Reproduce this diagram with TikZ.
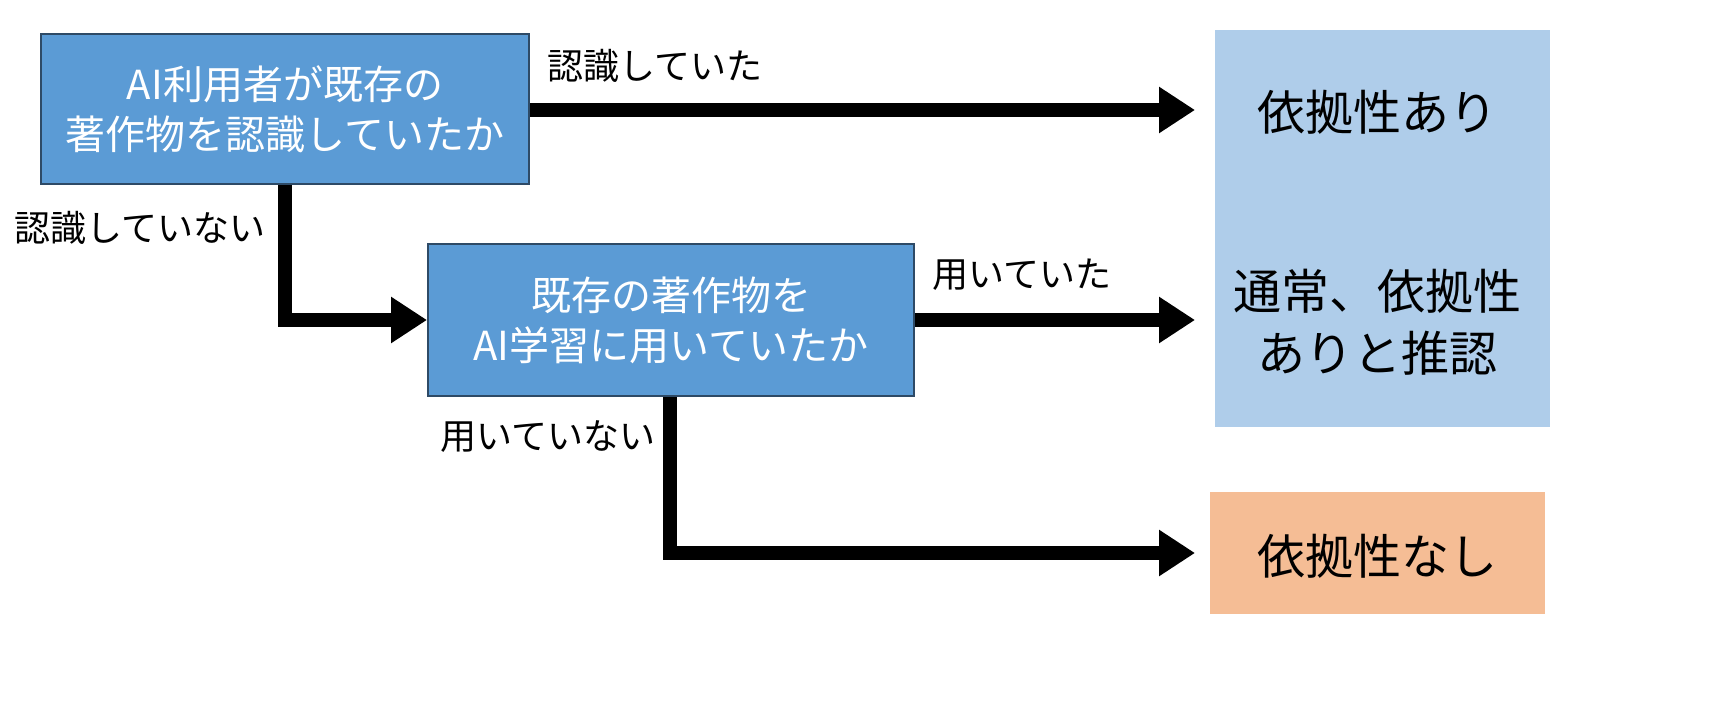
\documentclass[tikz,border=0pt]{standalone}
\usepackage{fontspec}
\setmainfont{Noto Sans CJK JP}
\usetikzlibrary{arrows.meta}
\definecolor{boxblue}{HTML}{5B9BD5}
\definecolor{boxedge}{HTML}{2E4A66}
\definecolor{lightblue}{HTML}{AFCDEA}
\definecolor{peach}{HTML}{F5BD95}
\begin{document}
\begin{tikzpicture}[x=1pt,y=-1pt,
  qbox/.style={draw=boxedge,line width=2pt,fill=boxblue,text=white,font=\fontsize{40}{50}\selectfont,align=center,anchor=north west,inner sep=0pt},
  lbl/.style={font=\fontsize{36}{42}\selectfont,anchor=center,inner sep=0pt},
  res/.style={font=\fontsize{48}{62}\selectfont,align=center,inner sep=0pt},
  flow/.style={line width=14pt,-{Triangle[length=36pt,width=44pt]}}]
\useasboundingbox (0,0) rectangle (1710,706);
\fill[lightblue] (1215,30) rectangle (1550,427);
\fill[peach] (1210,492) rectangle (1545,614);
\node[qbox,minimum width=488pt,minimum height=150pt] (q1) at (40,33) {AI利用者が既存の\\著作物を認識していたか};
\node[qbox,minimum width=486pt,minimum height=152pt] (q2) at (427,243) {既存の著作物を\\AI学習に用いていたか};
\coordinate (e1) at (1195,110);
\coordinate (e2) at (1195,320);
\coordinate (e3) at (1195,553);
\coordinate (c1) at (285,320);
\coordinate (c2) at (670,553);
\draw[flow] (q1.east |- e1) -- (e1);
\draw[flow] (q1.south -| c1) -- (c1) -- (q2.west |- c1);
\draw[flow] (q2.east |- e2) -- (e2);
\draw[flow] (q2.south -| c2) -- (c2) -- (e3);
\node[lbl] (l1) at (655,66) {認識していた};
\node[lbl] (l2) at (140,228) {認識していない};
\node[lbl] (l3) at (1022,275) {用いていた};
\node[lbl] (l4) at (548,437) {用いていない};
\node[res] (r1) at (1377,112) {依拠性あり};
\node[res] (r2) at (1377,322) {通常、依拠性\\ありと推認};
\node[res] (r3) at (1377,556) {依拠性なし};
\end{tikzpicture}
\end{document}
